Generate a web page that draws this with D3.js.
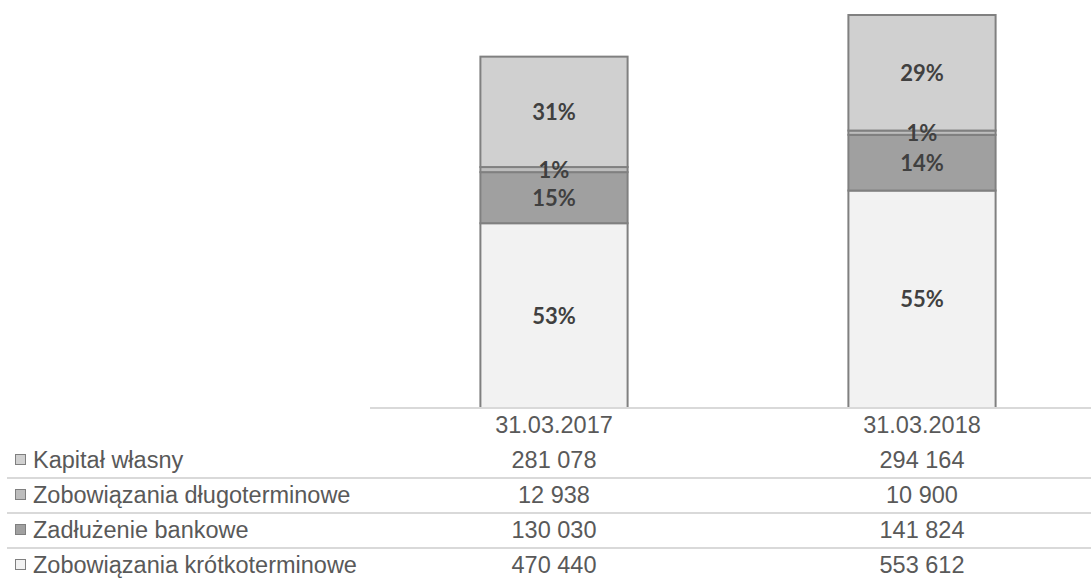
<!DOCTYPE html>
<html>
<head>
<meta charset="utf-8">
<script src="https://cdn.jsdelivr.net/npm/d3@7"></script>
<style>
  body { margin: 0; background: #fff; }
  svg { display: block; }
</style>
</head>
<body>
<div id="chart"></div>
<script>
// values
const dates = ['31.03.2017', '31.03.2018'];
const seriesNames = ['Zobowiązania krótkoterminowe', 'Zadłużenie bankowe', 'Zobowiązania długoterminowe', 'Kapitał własny'];
const krotkoterminowe = [470440, 553612];
const zadluzenie = [130030, 141824];
const dlugoterminowe = [12938, 10900];
const kapital = [281078, 294164];
const colours = ['#f2f2f2', '#a0a0a0', '#bdbdbd', '#d0d0d0'];

const width = 1091;
const height = 578;
const baseY = 408;
const rowH = 35;

const rows = dates.map((d, i) => ({
  date: d,
  'Zobowiązania krótkoterminowe': krotkoterminowe[i],
  'Zadłużenie bankowe': zadluzenie[i],
  'Zobowiązania długoterminowe': dlugoterminowe[i],
  'Kapitał własny': kapital[i],
}));
const totals = rows.map(r => d3.sum(seriesNames, k => r[k]));

const svg = d3.select('#chart').append('svg')
  .attr('width', width)
  .attr('height', height);

const x = d3.scaleBand()
  .domain(dates)
  .range([370, 1106])
  .paddingInner(0.6)
  .paddingOuter(0.3);

const y = d3.scaleLinear()
  .domain([0, d3.max(totals)])
  .range([baseY, 15]);

const colour = d3.scaleOrdinal().domain(seriesNames).range(colours);
const pct = d3.format('.0%');
const num = d3.formatLocale({decimal: ',', thousands: ' ', grouping: [3], currency: ['', '']}).format(',d');

const stacked = d3.stack().keys(seriesNames)(rows);

const layers = svg.selectAll('g.layer')
  .data(stacked)
  .enter().append('g')
  .attr('class', 'layer')
  .attr('fill', d => colour(d.key));

layers.selectAll('rect')
  .data(d => d)
  .enter().append('rect')
  .attr('x', d => x(d.data.date))
  .attr('y', d => y(d[1]))
  .attr('width', x.bandwidth())
  .attr('height', d => y(d[0]) - y(d[1]))
  .attr('stroke', '#808080')
  .attr('stroke-width', 2);

// percentage labels, drawn on top of every segment
const labels = svg.append('g');
stacked.forEach(layer => {
  labels.selectAll(null)
    .data(layer)
    .enter().append('text')
    .attr('x', d => x(d.data.date) + x.bandwidth() / 2)
    .attr('y', d => (y(d[0]) + y(d[1])) / 2)
    .attr('dy', '0.36em')
    .attr('text-anchor', 'middle')
    .style('font-family', 'Lato, "Open Sans", sans-serif')
    .style('font-weight', 'bold')
    .style('font-size', '22px')
    .attr('fill', '#404040')
    .text((d, i) => pct((d[1] - d[0]) / totals[i]));
});

// axis line / table top
svg.append('line')
  .attr('x1', 370).attr('x2', width)
  .attr('y1', baseY).attr('y2', baseY)
  .attr('stroke', '#d9d9d9')
  .attr('stroke-width', 2);

const textStyle = sel => sel
  .style('font-family', '"Liberation Sans", Arial, sans-serif')
  .style('font-size', '23.5px')
  .attr('fill', '#595959');

// header row with dates
svg.append('g').selectAll('text')
  .data(dates)
  .enter().append('text')
  .attr('x', d => x(d) + x.bandwidth() / 2)
  .attr('y', baseY + 25)
  .attr('text-anchor', 'middle')
  .call(textStyle)
  .text(d => d);

// data table rows, top row = top of stack
const tableSeries = seriesNames.slice().reverse();
const tableRows = svg.append('g').selectAll('g')
  .data(tableSeries)
  .enter().append('g')
  .attr('transform', (d, i) => `translate(0,${baseY + rowH * (i + 1)})`);

tableRows.filter((d, i) => i > 0).append('line')
  .attr('x1', 7).attr('x2', width)
  .attr('y1', -0.5 + 0.5).attr('y2', 0)
  .attr('stroke', '#d9d9d9')
  .attr('stroke-width', 2);

tableRows.append('rect')
  .attr('x', 15.5).attr('y', 11.5)
  .attr('width', 10).attr('height', 10)
  .attr('fill', d => colour(d))
  .attr('stroke', '#7f7f7f')
  .attr('stroke-width', 1);

tableRows.append('text')
  .attr('x', 33)
  .attr('y', 25)
  .call(textStyle)
  .text(d => d);

tableRows.selectAll('text.val')
  .data(key => rows.map(r => ({date: r.date, value: r[key]})))
  .enter().append('text')
  .attr('class', 'val')
  .attr('x', d => x(d.date) + x.bandwidth() / 2)
  .attr('y', 25)
  .attr('text-anchor', 'middle')
  .call(textStyle)
  .text(d => num(d.value));
</script>
</body>
</html>
